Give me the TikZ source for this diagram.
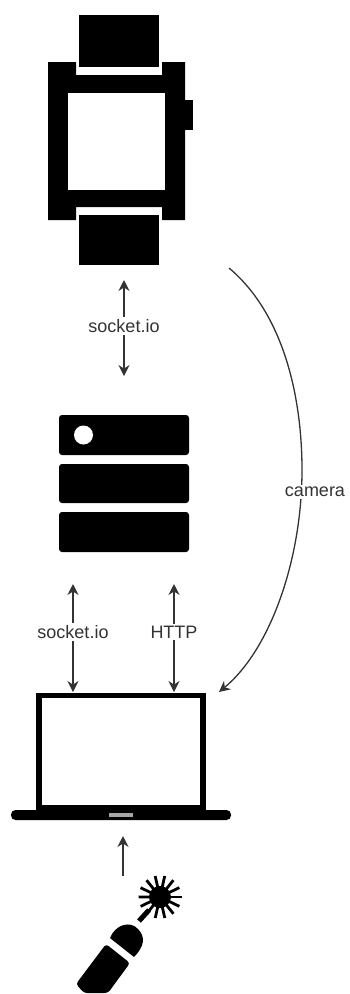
\documentclass[tikz,border=0pt]{standalone}
\usepackage{fontspec}
\setmainfont{Liberation Sans}
\usetikzlibrary{arrows.meta}
\definecolor{ink}{gray}{0.2}
\tikzset{
  conn/.style={draw=ink,line width=1.3pt,-{Stealth[length=11pt,width=11pt]}},
  lab/.style={font=\fontsize{18}{20}\selectfont,text=ink,fill=white,inner sep=2pt},
  solid black/.style={fill=black,draw=none},
  hole/.style={fill=white,draw=none},
  rack/.style={fill=black,draw=none,rounded corners=3pt}
}
\begin{document}
\begin{tikzpicture}[x=1pt,y=-1pt]
\useasboundingbox (0,0) rectangle (349,994);
% watch
\path[solid black] (79,15) rectangle (159,67);
\path[solid black] (79,215) rectangle (159,265);
\path[solid black] (48,62) -- (76,62) -- (76,75) -- (162,75) -- (162,62) -- (185,62) -- (185,220) -- (162,220) -- (162,207) -- (76,207) -- (76,220) -- (48,220) -- cycle;
\path[hole] (68,93) rectangle (165,190);
\path[solid black] (185,100) rectangle (193,130);
% server
\path[rack] (59,415) rectangle (189,455);
\path[rack] (59,464) rectangle (189,503);
\path[rack] (59,512) rectangle (189,552);
\path[hole] (83.5,435) circle (9.5);
% laptop
\path[solid black] (36,693) rectangle (206,815);
\path[hole] (42,698) rectangle (200,805);
\path[solid black,rounded corners=4.5pt] (11,810) rectangle (231,820);
\path[fill=black!35] (109,813) rectangle (133,817);
% laser
\path[solid black,rounded corners=3pt] (106,944) -- (130,963) -- (108,993) -- (84,993) -- (76,984) -- cycle;
\path[solid black] (110,938) .. controls (115,925) and (130,920) .. (138,929) .. controls (146,937) and (144,947) .. (134,957) -- cycle;
\path[draw=black,line width=5pt] (139,921) -- (149,910);
\path[solid black] (160,897) circle (11);
\foreach \a in {0,25.7,...,335}
  \draw[black,line width=2.8pt] (160,897) -- ++(\a:21.5);
% connectors
\coordinate (wt) at (124,280);
\coordinate (wb) at (124,376);
\node[lab] (s1) at (124,326) {socket.io};
\draw[conn] (s1) -- (wt);
\draw[conn] (s1) -- (wb);
\coordinate (a1) at (73,584);
\coordinate (a2) at (73,692);
\node[lab] (s2) at (73,632) {socket.io};
\draw[conn] (s2) -- (a1);
\draw[conn] (s2) -- (a2);
\coordinate (b1) at (174,584);
\coordinate (b2) at (174,692);
\node[lab] (h) at (174,632) {HTTP};
\draw[conn] (h) -- (b1);
\draw[conn] (h) -- (b2);
\coordinate (l1) at (123,876);
\coordinate (l2) at (123,836);
\draw[conn] (l1) -- (l2);
\coordinate (c1) at (229,268);
\coordinate (c2) at (219,692);
\draw[conn] (c1) .. controls (285,315) and (302,400) .. (302,470) .. controls (302,560) and (270,650) .. (c2);
\node[lab] (cam) at (315,492) {camera};
\end{tikzpicture}
\end{document}
